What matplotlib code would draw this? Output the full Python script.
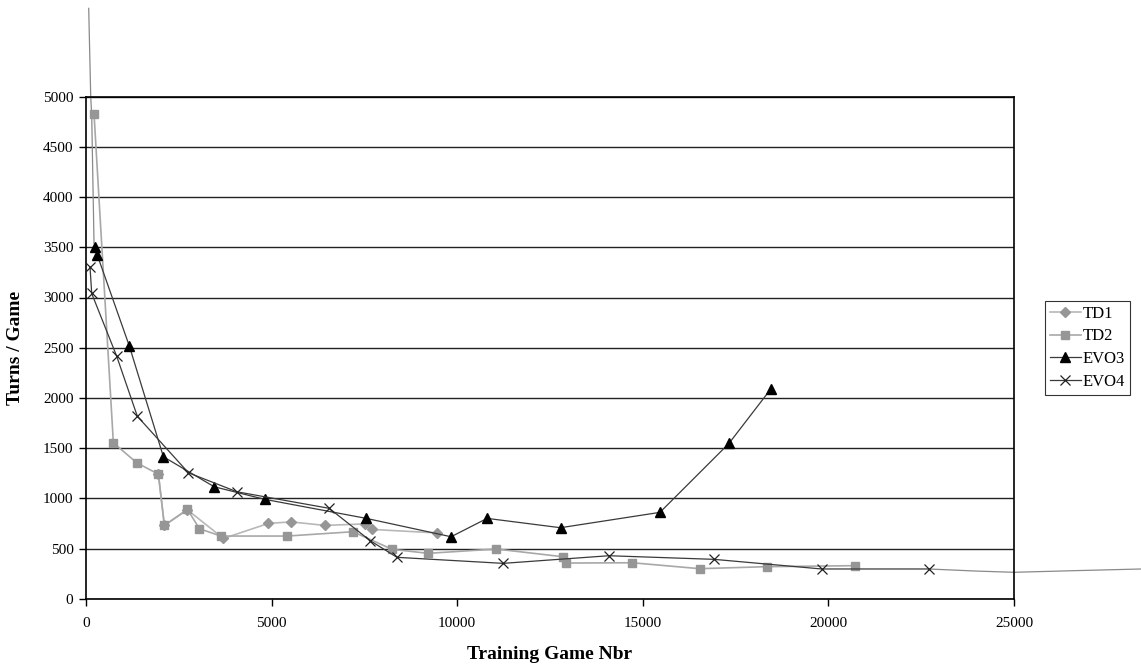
import matplotlib
matplotlib.use("Agg")
import matplotlib.pyplot as plt

plt.rcParams['font.family'] = ['Liberation Serif', 'DejaVu Serif']

# ---- data ----
td1_x = [1950, 2112, 2732, 3703, 4916, 5529, 6427, 7505, 7705, 9466]
td1_y = [1240, 730, 885, 600, 750, 765, 730, 745, 690, 655]

td2_x = [216, 737, 1367, 1950, 2112, 2732, 3056, 3633, 5413, 7193, 8244, 9215,
         11049, 12845, 12918, 14717, 16532, 18339, 20712]
td2_y = [4830, 1553, 1354, 1240, 730, 890, 697, 624, 624, 667, 492, 452,
         495, 418, 355, 358, 299, 319, 329]

evo3_x = [243, 305, 1168, 2085, 3452, 4809, 7551, 9835, 10806, 12783, 15462, 17322, 18447]
evo3_y = [3505, 3422, 2516, 1414, 1115, 990, 800, 617, 800, 707, 860, 1547, 2088]

evo4_x = [108, 154, 828, 1383, 2760, 4064, 6553, 7659, 8379, 11237, 14086, 16918, 19822, 22700]
evo4_y = [3305, 3040, 2414, 1817, 1254, 1065, 900, 577, 412, 352, 428, 392, 296, 296]

# thin grey line running beyond the plot area
ext_top_x = [73, 127, 154, 216, 243]
ext_top_y = [5880, 5000, 4810, 3540, 3505]
ext_right_x = [22700, 24000, 25000, 26500, 28430]
ext_right_y = [296, 275, 263, 278, 296]

x_ticks = [0, 5000, 10000, 15000, 20000, 25000]
y_ticks = list(range(0, 5001, 500))

fig = plt.figure(figsize=(11.41, 6.68), dpi=100)
ax = fig.add_axes([86 / 1141, 69.3 / 668, (1014 - 86) / 1141, (598.7 - 96.7) / 668])

ax.set_xlim(0, 25000)
ax.set_ylim(0, 5000)
ax.set_xticks(x_ticks)
ax.set_yticks(y_ticks)
ax.yaxis.grid(True, color='#222222', linewidth=1.0)
ax.set_axisbelow(True)

ax.plot(ext_top_x, ext_top_y, color='#8a8a8a', linewidth=0.9, clip_on=False, zorder=2)
ax.plot(ext_right_x, ext_right_y, color='#8a8a8a', linewidth=0.9, clip_on=False, zorder=2)

ax.plot(td1_x, td1_y, color='#b8b8b8', linewidth=1.2, marker='D', markersize=5.5,
        markerfacecolor='#969696', markeredgecolor='#969696', label='TD1', zorder=3)
ax.plot(td2_x, td2_y, color='#a8a8a8', linewidth=1.2, marker='s', markersize=6,
        markerfacecolor='#969696', markeredgecolor='#969696', label='TD2', zorder=3)
ax.plot(evo3_x, evo3_y, color='#3a3a3a', linewidth=0.9, marker='^', markersize=7,
        markerfacecolor='black', markeredgecolor='black', label='EVO3', zorder=4)
ax.plot(evo4_x, evo4_y, color='#3a3a3a', linewidth=0.9, marker='x', markersize=6.5,
        markeredgewidth=0.9, markeredgecolor='#222222', label='EVO4', zorder=4)

for s in ['left', 'bottom', 'right', 'top']:
    ax.spines[s].set_color('black')
    ax.spines[s].set_linewidth(1.2)

ax.tick_params(axis='both', direction='out', length=5, width=1, labelsize=11,
               colors='black', pad=4)
ax.tick_params(axis='x', pad=8)

ax.set_xlabel('Training Game Nbr', fontsize=14, fontweight='bold', labelpad=12)
ax.set_ylabel('Turns / Game', fontsize=14, fontweight='bold', labelpad=14)

leg = ax.legend(loc='center left', bbox_to_anchor=(1.033, 0.5), frameon=True,
                fancybox=False, edgecolor='black', fontsize=12, handlelength=1.9,
                borderpad=0.3, labelspacing=0.4, handletextpad=0.1, borderaxespad=0)
leg.get_frame().set_linewidth(0.8)

fig.savefig('out.png', dpi=100)
